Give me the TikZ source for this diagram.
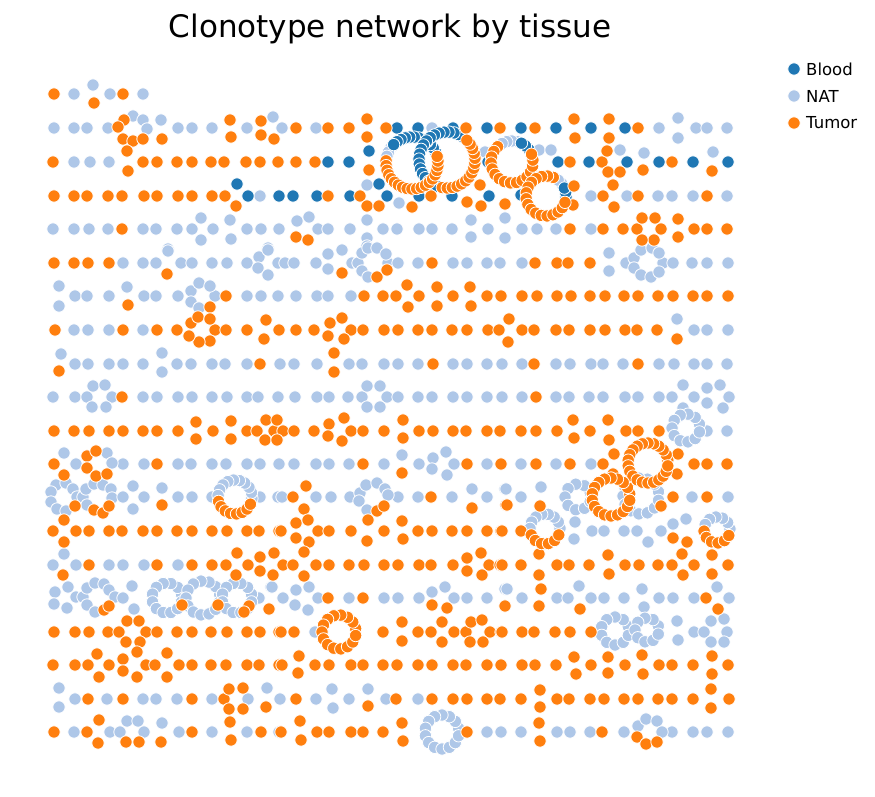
\documentclass[tikz,border=0pt]{standalone}
\usepackage{fontspec}
\newfontfamily\djv{DejaVu Sans}
\definecolor{cB}{HTML}{1F77B4}
\definecolor{cN}{HTML}{AEC7E8}
\definecolor{cO}{HTML}{FF7F0E}
\def\curpass{1}
\def\passN{1}\def\passB{2}\def\passO{3}
\newcommand\mydot[3]{\ifnum\curpass=\csname pass#3\endcsname\relax\path[fill=c#3,draw=white,line width=0.8pt] (#1,#2) circle[radius=6.2pt];\fi}
\newcommand\prow[2]{\foreach \x/\c in {#2}{\mydot{\x}{#1}{\c}}}
\newcommand\pts[1]{\foreach \x/\y/\c in {#1}{\mydot{\x}{\y}{\c}}}
\newcommand\ringarc[7]{\foreach \k in {1,...,#6}{\pgfmathsetmacro\aa{#4+(#5-#4)*(\k-0.5)/#6}\pgfmathsetmacro\px{#1+#3*cos(\aa)}\pgfmathsetmacro\py{#2-#3*sin(\aa)}\mydot{\px}{\py}{#7}}}
\newcommand\alldata{%
% row 94
\prow{94}{54/O,74/N,110/N,123/O,143/N}
\pts{93/85/N,94/103/O}
% row 128
\prow{128}{54/N,74/N,87/N,108/N,178/N,192/N,212/N,247/N}
\pts{124/120/O,133/116/N,143/120/N,147/129/N,118/127/O,123/139/O,133/141/O,143/139/O,162/139/O,161/120/N,127/151/O,128/171/O,230/120/O,231/137/O,261/121/O,261/135/O,273/117/N,274/139/O}
\prow{128}{282/N,296/O,316/N,328/O,349/O,386/O,397/B,418/B,432/N,453/B,466/O,487/B,500/O}
\pts{367/119/O,367/137/O}
\prow{128}{521/B,535/O,556/B,591/B,625/B,638/O,659/N,696/N,707/N,727/N}
\pts{574/119/O,575/138/O,609/119/O,609/138/O,678/118/N,678/138/N}
% row 162
\prow{162}{53/O,74/N,90/N,109/N,143/O,157/O,177/O,192/O,211/O,224/O,246/O,260/O,278/O}
\prow{162}{296/O,315/O,328/B,349/B,488/B}
\pts{369/151/B,369/170/O,485/152/N,473/150/O}
\prow{162}{558/B,570/O,589/B,602/O,627/B,659/B,672/O,693/B,728/B}
\pts{539/150/N,551/150/N,607/151/O,620/150/N,608/172/O,620/172/O,644/153/N,643/170/O,713/152/N,712/171/O}
% row 196
\prow{196}{54/O,74/O,87/O,108/O,122/O,144/O,157/O,178/O,192/O,212/O,225/O,248/B,260/N,279/B}
\pts{237/184/B,236/206/O}
\prow{196}{293/B,317/B,328/O,350/B,360/O,387/B,419/B,431/O,452/B,489/B}
\pts{367/185/N,367/206/O,379/206/O,379/184/B,399/203/N,412/207/O,467/202/O,481/206/O,505/204/O,480/185/O}
\prow{196}{591/N,603/O,627/N,638/O,658/N,672/N,693/N,707/O,727/N}
\pts{521/195/B,574/186/O,573/205/O,613/185/O,614/207/O}
% row 229
\prow{229}{53/N,74/N,89/N,108/N,122/O,143/N,156/N,177/N,192/N,213/N,247/N,261/N}
\pts{201/218/N,201/240/N,230/220/N,231/239/N,168/249/N,268/248/N}
\prow{229}{279/N,318/N,328/N,350/N,383/N,397/N,419/N,432/N,452/N,488/N}
\pts{297/221/N,296/237/O,309/217/N,308/240/O,367/220/N,367/238/N,471/220/N,471/237/N,505/218/N,505/238/N,367/246/N}
\prow{229}{522/N,537/N,556/N,570/O,591/N,603/O,623/O,637/O,661/O,694/O,707/O,727/O}
\pts{642/218/O,655/218/O,654/240/O,642/240/O,678/219/O,678/237/O}
% row 263
\prow{263}{54/O,74/O,88/O,109/O,123/N,143/N,156/N,181/N,192/N,212/N,227/N,247/N,278/N}
\pts{168/251/N,167/274/O,259/257/N,258/268/N,268/250/N,268/275/N}
\prow{263}{285/N,294/N,316/N,352/N,358/N,388/N,398/N,418/N,432/O,453/N,467/N,487/N,500/N}
\pts{328/254/N,328/269/N,342/250/N,342/273/O,362/253/N,368/248/N,377/248/N,386/254/N,362/271/N,368/277/N,377/277/O,387/270/O}
\prow{263}{522/N,535/O,557/O,568/O,590/O,626/N,663/N,673/N,692/N,707/N,728/N}
\pts{609/253/N,609/271/N,634/258/N,641/250/N,652/248/N,659/253/N,634/268/N,641/275/N,651/277/N,659/272/N}
% row 296
\prow{296}{75/N,87/N,109/N,144/N,156/N,178/N,215/N,226/O,247/N,261/N,278/N}
\pts{59/286/N,59/306/N,127/287/N,128/305/O,191/291/N,199/283/N,210/286/N,191/302/N,199/308/N,210/307/O}
\prow{296}{296/N,317/N,328/N,351/N,364/O,383/O,396/O,419/O,453/O,487/O,501/O}
\pts{407/285/O,408/307/O,437/287/O,437/306/O,470/287/O,471/306/O}
\prow{296}{522/O,537/O,557/O,571/O,590/O,605/O,624/O,638/O,658/O,673/O,693/O,707/O,728/O}
% row 330
\prow{330}{55/O,74/N,88/N,109/N,123/O,143/N,157/O,177/O,215/O,226/O,247/O,279/O}
\pts{191/323/O,198/317/O,210/319/O,210/341/O,199/342/O,189/336/O,266/320/O,264/339/O}
\prow{330}{296/O,314/O,351/O,363/O,384/O,398/O,418/O,432/O,452/O,467/O,488/O,499/O}
\pts{330/323/O,342/318/O,328/336/O,344/339/O,509/319/O,508/342/O}
\prow{330}{522/O,534/O,556/O,569/O,590/O,605/O,625/O,637/O,657/O,694/N,707/N,728/N}
\pts{677/319/N,677/339/O}
% row 364
\prow{364}{75/N,88/N,109/N,123/N,143/N,177/N,191/N,212/N,225/N,247/N,260/O,280/N}
\pts{61/354/N,59/371/O,162/353/N,162/372/N}
\prow{364}{294/N,317/N,349/N,362/N,384/N,398/N,418/N,433/O,453/N,467/N,487/N,502/N}
\pts{334/353/O,334/372/O}
\prow{364}{522/N,534/O,556/N,570/N,591/N,603/N,623/N,638/O,659/N,674/N,694/N,707/N,727/N}
% row 397
\prow{397}{53/N,75/N,87/N,112/N,122/O,143/N,157/N,178/N,192/N,212/N,227/N,247/N,258/N,278/N}
\pts{93/386/N,105/385/N,92/407/N,106/407/N}
\prow{397}{295/N,317/N,329/N,348/N,362/N,387/N,398/N,418/N,432/N,453/N,467/N,487/N,502/N}
\pts{367/386/N,380/386/N,367/407/N,380/407/N}
\prow{397}{522/N,536/O,556/N,569/N,589/N,603/N,625/N,638/N,659/N,672/N,694/N,729/N}
\pts{683/385/N,683/408/N,707/388/N,720/385/N,707/403/N,723/408/N}
% row 431
\prow{431}{54/O,74/O,89/O,109/O,123/O,143/O,157/O,178/O,213/O,247/O,257/O,274/O}
\pts{196/422/O,196/439/O,231/421/O,231/439/O,266/420/O,265/440/O}
\prow{431}{283/O,294/O,314/O,351/O,363/O,384/O,419/O,433/O,453/O,466/O,487/O,500/O}
\pts{277/420/O,277/440/O,329/424/O,328/436/O,344/418/O,342/441/O,403/420/O,403/438/O}
\prow{431}{521/O,536/O,557/O,590/O,626/O,638/O,659/O,707/N,727/N}
\pts{573/420/O,574/438/O,608/420/O,609/440/O}
\ringarc{686}{428}{14}{0}{360}{11}{N}
% row 464
\prow{464}{54/O,76/N,123/N,144/N,157/O,178/N,191/N,212/N,226/N,247/N,260/N,279/N}
\pts{64/453/N,64/475/O,87/456/O,96/451/O,107/453/N,112/463/N,87/468/O,96/476/O,107/474/O}
\prow{464}{294/N,316/N,329/N,349/N,363/O,384/N,419/N,454/N,467/O,487/N,501/O}
\pts{402/455/N,402/473/O,433/458/N,446/452/N,432/469/N,447/475/N}
\prow{464}{521/N,536/O,556/N,570/O,591/N,603/O,694/O,707/O,727/O}
\pts{614/454/O,678/454/O,677/474/O}
\ringarc{648}{463}{20}{0}{360}{22}{O}
% row 497
\pts{56/485/N,66/483/N,51/492/N,51/502/N,57/509/N,66/511/N,73/489/N,77/497/N,83/497/N,87/505/N,75/506/O,86/489/N,94/484/N,103/485/N,111/489/N,112/498/N,94/510/O,103/513/O,109/506/O,133/486/N,133/509/N,162/488/N,162/505/O}
\prow{497}{123/N,144/N,178/N,192/N,212/N,260/N,278/N}
\ringarc{235}{497}{17}{-15}{185}{10}{N}\ringarc{235}{497}{17}{185}{345}{8}{O}
\prow{497}{282/N,293/O,316/N,331/N,350/N,398/N,418/N,431/O,452/N,487/N}
\pts{306/486/O,472/489/N,472/508/O,505/489/N,506/505/O,360/493/N,359/501/N,366/485/N,377/483/N,385/489/N,388/495/N,367/510/N,377/511/O,384/506/O}
\prow{497}{521/N,692/N,707/O,728/N,673/O}
\pts{506/489/N,507/505/O,541/487/N,540/506/O,613/474/O,661/506/O}
\ringarc{578}{497}{13}{0}{360}{9}{N}
\ringarc{641}{496}{18}{0}{360}{13}{N}
\ringarc{611}{497}{19}{0}{360}{18}{O}
% row 531
\prow{531}{53/O,76/O,89/O,109/O,122/O,143/O,157/O,177/O,192/O,212/O,227/O,247/O,259/O,279/O}
\pts{64/520/O,64/542/O}
\prow{531}{281/O,318/O,329/O,351/O,384/O,418/O,432/O,452/O,467/O,487/O,501/O}
\pts{304/509/O,296/523/O,308/520/O,296/538/O,309/542/O,368/520/O,367/541/O,402/521/O,403/539/O}
\prow{531}{502/O,521/O,592/N,604/N,624/N,637/N,661/N}
\pts{575/522/N,574/539/N,648/542/N,673/524/N,673/538/O,686/519/N,687/542/O,539/554/O,682/554/O,712/555/O}
\ringarc{545}{529}{15}{-10}{190}{8}{N}\ringarc{545}{529}{15}{190}{350}{6}{O}
\ringarc{717}{530}{13}{-10}{170}{6}{N}\ringarc{717}{530}{13}{170}{350}{6}{O}
% row 565
\prow{565}{53/N,76/N,89/O,109/N,123/N,144/N,157/O,178/N,192/O,212/O,226/O,248/O}
\pts{64/554/N,63/575/O,237/553/O,236/575/O,260/557/O,260/571/O,274/553/O,273/575/O}
\prow{565}{283/O,293/O,316/O,329/O,349/O,364/O,384/O,398/O,419/O,431/O,453/O,489/O,500/O}
\pts{304/552/O,304/576/O,467/558/O,467/571/O,481/553/O,482/575/O}
\prow{565}{502/O,521/O,557/O,569/O,589/O,625/O,639/O,658/O,672/O,694/O,728/O}
\pts{539/575/O,608/555/O,609/574/O,683/575/O,712/574/O}
% row 598
\pts{55/592/N,54/604/N,68/587/N,67/608/N,76/597/N,83/597/N,87/605/N,87/588/N,95/612/N,95/583/N,104/584/N,109/590/N,115/597/N,123/598/N,132/586/N,134/609/N,259/598/N,271/587/N}
\ringarc{167}{598}{15}{0}{360}{12}{N}\ringarc{203}{598}{17}{0}{360}{13}{N}\ringarc{237}{598}{15}{0}{360}{12}{N}
\pts{104/610/O,109/606/O,182/605/O,218/605/O,249/606/O,244/612/O,269/609/O}
\prow{598}{283/N,318/N,328/O,349/N,363/O,384/N,398/N,419/N,454/N,467/N,487/N}
\pts{272/587/N,296/590/N,295/605/N,309/587/N,308/610/N,432/592/N,445/587/N,432/605/O,447/608/O,505/589/N}
\prow{598}{522/N,557/N,568/N,591/N,604/N,624/N,659/N,673/N,694/N,706/O,729/N}
\pts{507/589/N,505/606/O,541/589/O,539/606/O,579/586/N,580/609/O,642/589/N,644/607/N,717/587/N,718/609/O}
% row 632
\prow{632}{54/O,75/O,89/O,108/O,119/O,146/O,157/O,177/O,192/O,211/O,227/O,247/O,260/O,279/O}
\pts{127/621/O,139/621/O,126/642/O,140/642/O}
\prow{632}{281/O,294/O,315/N,383/O,418/O,431/O,454/O,466/O,490/O,501/O}
\pts{402/622/O,402/641/O,442/622/O,442/642/O,471/622/O,470/642/O,482/620/O,483/642/O}
\ringarc{339}{632}{17}{0}{360}{15}{O}
\prow{632}{502/O,522/O,534/O,555/O,570/O,591/O,694/N,704/N,727/N}
\pts{677/621/N,678/640/N,711/621/N,724/619/N,724/642/N,711/642/N}
\ringarc{615}{631}{14}{0}{360}{10}{N}\ringarc{647}{630}{12}{0}{360}{9}{N}
% row 665
\prow{665}{53/O,75/O,88/O,109/O,146/O,155/O,179/O,192/O,211/O,226/O,247/O,259/O,279/O}
\pts{97/654/O,99/677/O,123/659/O,137/652/O,123/671/O,137/677/O,167/653/O,167/677/O}
\prow{665}{282/O,315/O,329/O,351/O,363/O,383/O,397/O,418/O,432/O,453/O,466/O,487/O,501/O}
\pts{299/656/O,298/673/O}
\prow{665}{522/O,535/O,556/O,591/O,625/O,659/O,672/O,693/O,728/O}
\pts{574/657/O,576/674/O,608/657/O,608/673/O,642/655/O,643/674/O,712/656/O,712/674/O}
% row 699
\prow{699}{75/N,88/O,107/N,123/O,143/N,156/N,177/N,192/O,212/N,224/O,248/N,280/N}
\pts{59/688/N,59/707/N,229/689/O,243/688/O,229/709/O,243/709/O,266/707/O,267/688/N}
\prow{699}{296/O,316/N,349/N,386/N,396/O,418/N,432/O,453/O,467/O,487/O,500/O}
\pts{332/689/N,333/708/N,368/689/N,368/706/O}
\prow{699}{521/O,557/O,569/O,590/O,604/O,624/O,638/O,658/O,672/O,693/O,729/O}
\pts{540/690/O,540/707/O,711/689/O,711/708/O}
% row 732
\prow{732}{54/O,74/N,87/O,110/N,120/N,144/N,179/N,192/O,212/N,247/N,261/O,279/N}
\pts{99/720/O,98/743/O,127/721/N,138/721/N,126/742/O,139/742/O,162/723/N,161/742/O,230/722/O,231/740/O}
\prow{732}{281/O,317/O,329/O,351/O,363/O,383/O,467/O,487/N,501/N}
\pts{300/721/O,301/740/O,402/723/O,403/741/O}
\ringarc{442}{732}{17}{0}{360}{14}{N}
\prow{732}{521/N,557/N,570/N,590/N,602/O,624/N,672/N,693/N,707/N,728/N}
\pts{539/723/O,540/741/O,638/726/N,646/719/N,657/721/N,662/732/N,637/737/O,646/744/O,657/742/O}
% big rings at top
\ringarc{412}{163}{26}{20}{140}{12}{B}\ringarc{412}{163}{26}{140}{170}{3}{N}\ringarc{412}{163}{26}{170}{380}{20}{O}
\ringarc{447}{160}{28}{50}{255}{20}{B}\ringarc{447}{160}{28}{255}{410}{15}{O}
\ringarc{512}{162}{21}{30}{70}{3}{B}\ringarc{512}{162}{21}{70}{125}{4}{N}\ringarc{512}{162}{21}{125}{390}{16}{O}
\ringarc{546}{196}{20}{-10}{30}{3}{B}\ringarc{546}{196}{20}{30}{60}{2}{N}\ringarc{546}{196}{20}{60}{350}{17}{O}
}
\begin{document}
\begin{tikzpicture}[x=1pt,y=-1pt]
\useasboundingbox (0,0) rectangle (875,797);
\node[font=\djv\fontsize{31}{36}\selectfont] (title) at (390,29) {Clonotype network by tissue};
\def\curpass{1}\alldata
\def\curpass{2}\alldata
\def\curpass{3}\alldata
% legend
\path[fill=cB,draw=white,line width=0.8pt] (794,69) circle[radius=6.2pt] coordinate (mB);
\path[fill=cN,draw=white,line width=0.8pt] (794,96) circle[radius=6.2pt] coordinate (mN);
\path[fill=cO,draw=white,line width=0.8pt] (794,123) circle[radius=6.2pt] coordinate (mO);
\node[anchor=west,inner sep=0pt,font=\djv\fontsize{16.5}{19}\selectfont] (lB) at (806,69) {Blood};
\node[anchor=west,inner sep=0pt,font=\djv\fontsize{16.5}{19}\selectfont] (lN) at (806,96) {NAT};
\node[anchor=west,inner sep=0pt,font=\djv\fontsize{16.5}{19}\selectfont] (lO) at (806,123) {Tumor};
\end{tikzpicture}
\end{document}
